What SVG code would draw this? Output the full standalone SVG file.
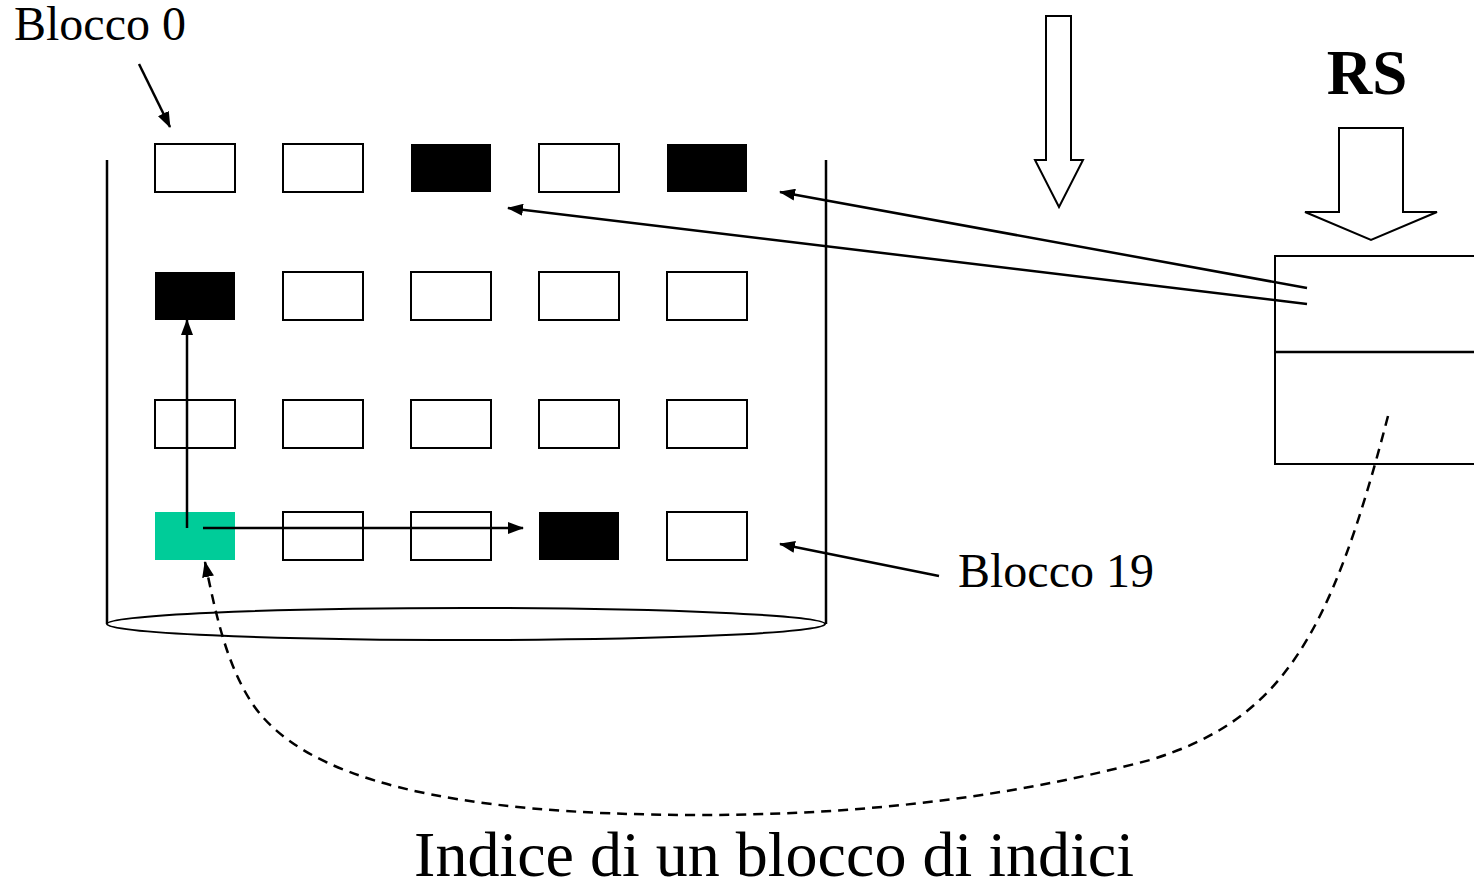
<svg xmlns="http://www.w3.org/2000/svg" width="1474" height="885" viewBox="0 0 1474 885">
<style>
.b{fill:#fff;stroke:#000;stroke-width:2}
.k{fill:#000}
.ln{stroke:#000;stroke-width:2.5;fill:none}
.t{font-family:"Liberation Serif","Times New Roman",serif;fill:#000}
</style>
<defs>
<marker id="ah2" viewBox="0 0 16 12" refX="15" refY="6" markerWidth="16" markerHeight="12" orient="auto" markerUnits="userSpaceOnUse"><path d="M0,0 L16,6 L0,12 z" fill="#000"/></marker>
</defs>
<rect width="1474" height="885" fill="#fff"/>
<g id="cylinder">
<line x1="107" y1="160" x2="107" y2="624" class="ln" stroke-width="2"/>
<line x1="826" y1="160" x2="826" y2="624" class="ln" stroke-width="2"/>
<ellipse cx="466" cy="624" rx="359" ry="16" class="b"/>
</g>
<g id="blocks">
<rect id="b0" x="155" y="144" width="80" height="48" class="b"/>
<rect id="b1" x="283" y="144" width="80" height="48" class="b"/>
<rect id="b2" x="411" y="144" width="80" height="48" class="k"/>
<rect id="b3" x="539" y="144" width="80" height="48" class="b"/>
<rect id="b4" x="667" y="144" width="80" height="48" class="k"/>
<rect id="b5" x="155" y="272" width="80" height="48" class="k"/>
<rect id="b6" x="283" y="272" width="80" height="48" class="b"/>
<rect id="b7" x="411" y="272" width="80" height="48" class="b"/>
<rect id="b8" x="539" y="272" width="80" height="48" class="b"/>
<rect id="b9" x="667" y="272" width="80" height="48" class="b"/>
<rect id="b10" x="155" y="400" width="80" height="48" class="b"/>
<rect id="b11" x="283" y="400" width="80" height="48" class="b"/>
<rect id="b12" x="411" y="400" width="80" height="48" class="b"/>
<rect id="b13" x="539" y="400" width="80" height="48" class="b"/>
<rect id="b14" x="667" y="400" width="80" height="48" class="b"/>
<rect id="b15" x="155" y="512" width="80" height="48" fill="#00CC99"/>
<rect id="b16" x="283" y="512" width="80" height="48" class="b"/>
<rect id="b17" x="411" y="512" width="80" height="48" class="b"/>
<rect id="b18" x="539" y="512" width="80" height="48" class="k"/>
<rect id="b19" x="667" y="512" width="80" height="48" class="b"/>
</g>
<g id="rs-table">
<polyline points="1474,256 1275,256 1275,464 1474,464" class="b"/>
<line x1="1275" y1="352" x2="1474" y2="352" class="ln" stroke-width="2"/>
</g>
<g id="big-arrows">
<polygon points="1046,16 1071,16 1071,160 1083,160 1059,207 1035,160 1046,160" class="b"/>
<polygon points="1339,128 1403,128 1403,212 1437,212 1371,240 1305,212 1339,212" class="b"/>
</g>
<g id="labels">
<text x="14" y="40" class="t" font-size="48">Blocco 0</text>
<text x="958" y="587" class="t" font-size="48">Blocco 19</text>
<text x="1367" y="94" class="t" font-size="63" font-weight="bold" text-anchor="middle">RS</text>
<text x="774" y="876" class="t" font-size="64" text-anchor="middle">Indice di un blocco di indici</text>
</g>
<g id="connectors">
<line x1="139" y1="64" x2="170" y2="127" class="ln" marker-end="url(#ah2)"/>
<line x1="1307" y1="288" x2="780" y2="192" class="ln" marker-end="url(#ah2)"/>
<line x1="1307" y1="304" x2="508" y2="208" class="ln" marker-end="url(#ah2)"/>
<line x1="187" y1="528" x2="187" y2="320" class="ln" marker-end="url(#ah2)"/>
<line x1="203" y1="528" x2="523" y2="528" class="ln" marker-end="url(#ah2)"/>
<line x1="939" y1="576" x2="780" y2="544" class="ln" marker-end="url(#ah2)"/>
<path d="M1388,416 C1330,640 1280,720 1150,760 C1000,800 850,815 700,815 C450,815 300,780 250,700 C225,660 215,610 205,562" class="ln" stroke-dasharray="10,7" marker-end="url(#ah2)"/>
</g>
</svg>
